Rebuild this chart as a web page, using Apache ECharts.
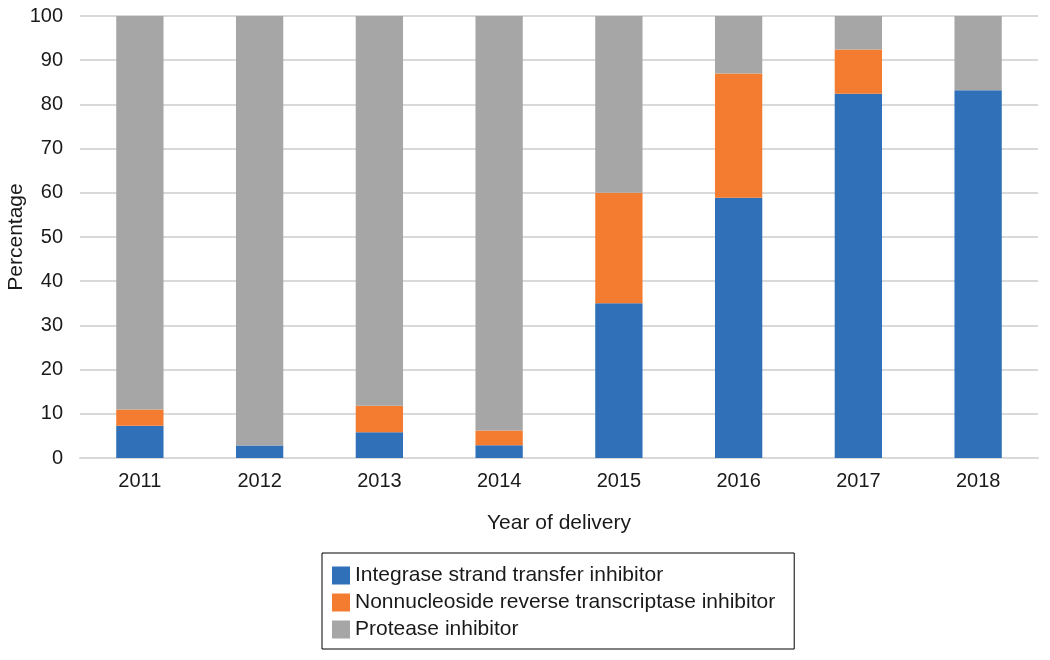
<!DOCTYPE html>
<html>
<head>
<meta charset="utf-8">
<script src="https://cdn.jsdelivr.net/npm/echarts@6/dist/echarts.min.js"></script>
<style>html,body{margin:0;padding:0;background:#fff}#c{width:1050px;height:660px}</style>
</head>
<body>
<div id="c"></div>
<script>
const years = ['2011','2012','2013','2014','2015','2016','2017','2018'];
const integrase = [7.3, 2.8, 5.8, 2.9, 35.0, 58.9, 82.4, 83.2];
const nnrti = [3.7, 0, 6.0, 3.3, 25.0, 28.1, 10.0, 0];
const protease = [89.0, 97.2, 88.2, 93.8, 40.0, 13.0, 7.6, 16.8];
const seriesNames = ['Integrase strand transfer inhibitor','Nonnucleoside reverse transcriptase inhibitor','Protease inhibitor'];
const yTicks = [0,10,20,30,40,50,60,70,80,90,100];

const font = 'Liberation Sans, Arial, sans-serif';
const chart = echarts.init(document.getElementById('c'));
const mk = (name, data, color) => ({
  name, type: 'bar', stack: 'all', data, barWidth: '39.5%',
  itemStyle: { color }, emphasis: { disabled: true }
});
chart.setOption({
  animation: false,
  textStyle: { fontFamily: font },
  grid: { left: 80, right: 12, top: 16, bottom: 202, containLabel: false, outerBoundsMode: 'none' },
  xAxis: {
    type: 'category', data: years,
    name: 'Year of delivery', nameLocation: 'middle', nameGap: 55, nameMoveOverlap: false,
    nameTextStyle: { fontSize: 21, color: '#1a1a1a', fontFamily: font },
    axisTick: { show: false },
    axisLine: { lineStyle: { color: '#d9d9d9', width: 2 } },
    axisLabel: { fontSize: 20, color: '#1a1a1a', margin: 13, fontFamily: font }
  },
  yAxis: {
    type: 'value', min: yTicks[0], max: yTicks[yTicks.length-1], interval: 10,
    name: 'Percentage', nameLocation: 'middle', nameGap: 53, nameRotate: 90, nameMoveOverlap: false,
    nameTextStyle: { fontSize: 21, color: '#1a1a1a', fontFamily: font },
    axisLine: { show: false }, axisTick: { show: false },
    splitLine: { lineStyle: { color: '#d9d9d9', width: 2 } },
    axisLabel: { fontSize: 20, color: '#1a1a1a', margin: 17, fontFamily: font }
  },
  legend: {
    orient: 'vertical', left: 322, top: 553,
    padding: [12, 19, 9, 10],
    borderColor: '#000', borderWidth: 1,
    itemWidth: 18, itemHeight: 18, itemGap: 6,
    icon: 'rect',
    textStyle: { fontSize: 21, color: '#1a1a1a', fontFamily: font },
    data: seriesNames
  },
  series: [
    mk(seriesNames[0], integrase, '#2f70b8'),
    mk(seriesNames[1], nnrti, '#f47c30'),
    mk(seriesNames[2], protease, '#a6a6a6')
  ]
});
</script>
</body>
</html>
